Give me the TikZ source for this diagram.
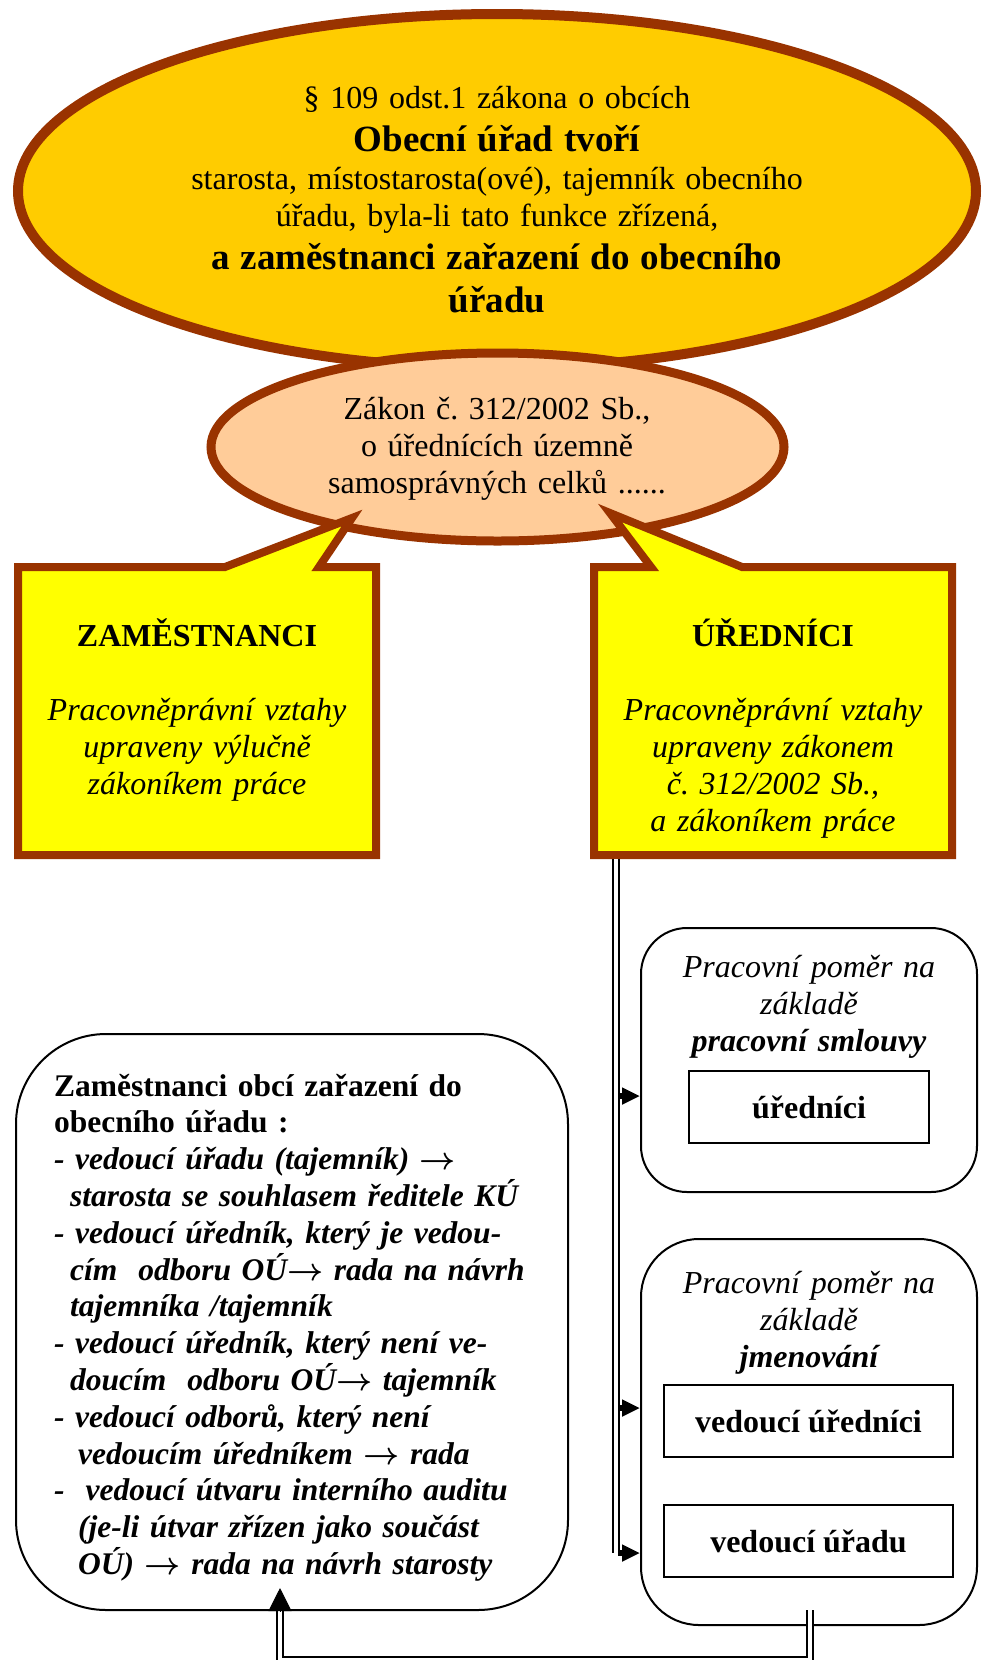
\RequirePackage{fix-cm}
\documentclass[tikz,border=0pt]{standalone}
\usepackage{fontspec}
\setmainfont{Liberation Serif}
\usetikzlibrary{arrows.meta,shapes.geometric}
\frenchspacing

\definecolor{rimbrown}{HTML}{993300}
\definecolor{gold}{HTML}{FFCC00}
\definecolor{peach}{HTML}{FFCC99}
\definecolor{lemon}{HTML}{FFFF00}

% text sizes: regular 32pt body, 37pt bold headline
\newcommand\regfont{\fontsize{32}{37}\selectfont\lineskiplimit=-100pt\relax}
\newcommand\listfont{\fontsize{31.5}{36.8}\selectfont\lineskiplimit=-100pt\relax}
\newcommand\headfont{\fontsize{37}{37}\selectfont\bfseries}
\newcommand\toarrow{{\boldmath$\rightarrow$}}

\tikzset{
  bubble/.style={ellipse, draw=rimbrown, inner sep=0pt},
  callout/.style={fill=lemon, draw=rimbrown, line width=8pt, line join=miter, miter limit=10},
  body/.style={inner sep=0pt, anchor=base, font=\regfont},
  mid/.style={body, align=center},
  rbox/.style={draw=black, line width=2pt, rounded corners=#1, inner sep=0pt},
  inbox/.style={draw=black, line width=1.5pt, inner sep=0pt, minimum width=#1,
                minimum height=72pt, font=\regfont\bfseries},
  dbl/.style={draw=black, line width=1.8pt, double=white, double distance=4pt},
  branch/.style={line width=6pt, -{Triangle[length=18pt,width=16pt]}},
}

\begin{document}
\begin{tikzpicture}[x=1pt,y=-1pt]
\useasboundingbox (0,0) rectangle (982,1660);

% --- top: the two ellipses ---
\node[bubble, line width=10pt, fill=gold, minimum width=958pt, minimum height=354pt] (obecni) at (497,191) {};
\node[mid, text width=900pt] (obecnitext) at (497,108)
  {§ 109 odst.1 zákona o obcích\\[6pt]
   {\headfont Obecní úřad tvoří}\\[1pt]
   starosta, místostarosta(ové), tajemník obecního\\
   úřadu, byla-li tato funkce zřízená,\\[6pt]
   {\headfont a zaměstnanci zařazení do obecního}\\[6pt]
   {\headfont úřadu}};

\node[bubble, line width=9pt, fill=peach, minimum width=573pt, minimum height=188pt] (zakon) at (497.5,447) {};
\node[mid, text width=560pt] (zakontext) at (497,419)
  {Zákon č. 312/2002 Sb.,\\
   o úřednících územně\\
   samosprávných celků ......};

% --- the two speech boxes pointing at the law ---
\filldraw[callout] (18,567) -- (225,567) -- (352,518) -- (319,567) -- (376,567)
  -- (376,855) -- (18,855) -- cycle;
\filldraw[callout] (594,567) -- (651,567) -- (610,513) -- (742,567) -- (952,567)
  -- (952,855) -- (594,855) -- cycle;

\node[mid, text width=340pt] (zamtext) at (197,646)
  {\textbf{ZAMĚSTNANCI}\\[37pt]
   {\itshape Pracovněprávní vztahy\\ upraveny výlučně\\ zákoníkem práce}};
\node[mid, text width=340pt] (uredtext) at (773,646)
  {\textbf{ÚŘEDNÍCI}\\[37pt]
   {\itshape Pracovněprávní vztahy\\ upraveny zákonem\\ č. 312/2002 Sb.,\\ a zákoníkem práce}};

% --- right column: kinds of employment ---
\node[rbox=46pt, minimum width=336pt, minimum height=264pt] (smlouva) at (809,1060) {};
\node[mid, text width=330pt] (smlouvatext) at (809,977)
  {\itshape Pracovní poměr na\\ základě\\ {\bfseries pracovní smlouvy}};
\node[inbox=240pt] (uredn) at (809,1107) {úředníci};

\node[rbox=58pt, minimum width=336pt, minimum height=386pt] (jmen) at (809,1432) {};
\node[mid, text width=330pt] (jmentext) at (809,1293)
  {\itshape Pracovní poměr na\\ základě\\ {\bfseries jmenování}};
\node[inbox=289pt] (vedured) at (808.5,1421) {vedoucí úředníci};
\node[inbox=289pt] (veduradu) at (808.5,1541) {vedoucí úřadu};

% --- left column: who appoints whom ---
\node[rbox=90pt, minimum width=552pt, minimum height=576pt] (jmenuje) at (292,1322) {};
\node[body, anchor=base west, text width=505pt, align=left, font=\listfont] (jmenujetext) at (54,1096)
  {\textbf{Zaměstnanci obcí zařazení do}\\
   \textbf{obecního úřadu :}\\
   {\bfseries\itshape
   - vedoucí úřadu (tajemník) \toarrow\\
   \hspace*{16pt}starosta se souhlasem ředitele KÚ\\
   - vedoucí úředník, který je vedou-\\
   \hspace*{16pt}cím\ \ odboru OÚ\toarrow\ rada na návrh\\
   \hspace*{16pt}tajemníka /tajemník\\
   - vedoucí úředník, který není ve-\\
   \hspace*{16pt}doucím\ \ odboru OÚ\toarrow\ tajemník\\
   - vedoucí odborů, který není\\
   \hspace*{24pt}vedoucím úředníkem \toarrow\ rada\\
   -\ \ vedoucí útvaru interního auditu\\
   \hspace*{24pt}(je-li útvar zřízen jako součást\\
   \hspace*{24pt}OÚ) \toarrow\ rada na návrh starosty}};

% --- connectors ---
\coordinate (trunktop) at (616,859);
\coordinate (trunkend) at (616,1553);
\draw[dbl] (trunktop) -- (trunkend);
\coordinate (br1) at (618,1096);
\coordinate (br2) at (618,1408);
\coordinate (br3) at (618,1553);
\draw[branch] (br1) -- (br1 -| smlouva.west);
\draw[branch] (br2) -- (br2 -| jmen.west);
\draw[branch] (br3) -- (br3 -| jmen.west);

\coordinate (loopstart) at (810,1610);
\coordinate (loopright) at (810,1660);
\coordinate (loopleft) at (280,1660);
\coordinate (looptip) at (jmenuje.south -| loopleft);
\draw[dbl] (loopstart) -- (loopright) -- (loopleft) -- (looptip);
\draw[line width=1pt, -{Triangle[length=23pt,width=23pt]}] (looptip) -- ([yshift=23pt]looptip);
\end{tikzpicture}
\end{document}
